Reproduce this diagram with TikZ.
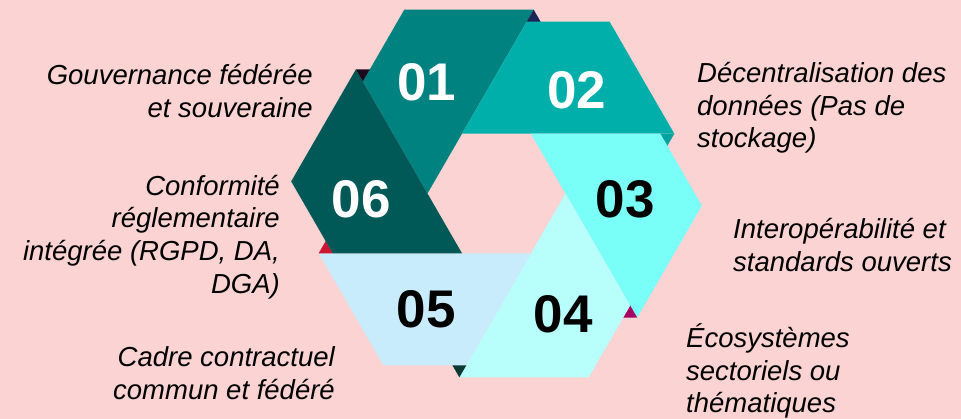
\documentclass[tikz,border=0pt]{standalone}
\usepackage{fontspec}
\setmainfont{Liberation Sans}
\definecolor{bg}{HTML}{FBD3D3}
\definecolor{c1}{HTML}{008380}
\definecolor{c2}{HTML}{00AFAA}
\definecolor{c3}{HTML}{7AFFF8}
\definecolor{c4}{HTML}{B8FFFB}
\definecolor{c5}{HTML}{C8ECFB}
\definecolor{c6}{HTML}{005956}
\definecolor{t1}{HTML}{1B2557}
\definecolor{t2}{HTML}{00A39E}
\definecolor{t3}{HTML}{A60063}
\definecolor{t4}{HTML}{0B3A35}
\definecolor{t5}{HTML}{CC1530}
\definecolor{t6}{HTML}{1C0A1E}
\begin{document}
\begin{tikzpicture}[x=1pt,y=-1pt,
  lbl/.style={inner sep=0pt,font=\fontsize{27.5}{32.7}\selectfont\itshape},
  num/.style={inner sep=0pt,font=\fontsize{53}{60}\selectfont\bfseries}]
\fill[bg] (0,0) rectangle (961,419);
\useasboundingbox (0,0) rectangle (961,419);
\foreach \k/\col/\tcol in {1/c1/t1,2/c2/t2,3/c3/t3,4/c4/t4,5/c5/t5,6/c6/t6}{
  \begin{scope}[shift={(496.5,193.5)},rotate={-(\k-2)*60}]
    \fill[\col] (-34.5,-59.76) -- (177.8,-59.76) -- (113.14,-171.76) -- (30.16,-171.76) -- cycle;
    \fill[\tcol] (177.8,-59.76) -- (163.8,-59.76) -- (170.8,-47.64) -- cycle;
  \end{scope}
}
\node[num,white] (n1) at (426.7,82.5) {01};
\node[num,white] (n2) at (576.7,90.2) {02};
\node[num,black] (n3) at (625.3,199.2) {03};
\node[num,black] (n4) at (563.3,314.2) {04};
\node[num,black] (n5) at (426.3,309.2) {05};
\node[num,white] (n6) at (361.3,199.2) {06};
\node[lbl,align=right,anchor=east] (l1) at (313,91) {Gouvernance fédérée\\et souveraine};
\node[lbl,align=left,anchor=west] (l2) at (697,108) {Décentralisation des\\données (Pas de\\stockage)};
\node[lbl,align=left,anchor=west] (l3) at (733,245) {Interopérabilité et\\standards ouverts};
\node[lbl,align=left,anchor=west] (l4) at (686,371) {Écosystèmes\\sectoriels ou\\thématiques};
\node[lbl,align=right,anchor=east] (l5) at (335,373) {Cadre contractuel\\commun et fédéré};
\node[lbl,align=right,anchor=east] (l6) at (280,237) {Conformité\\réglementaire\\intégrée (RGPD, DA,\\DGA)};
\end{tikzpicture}
\end{document}
